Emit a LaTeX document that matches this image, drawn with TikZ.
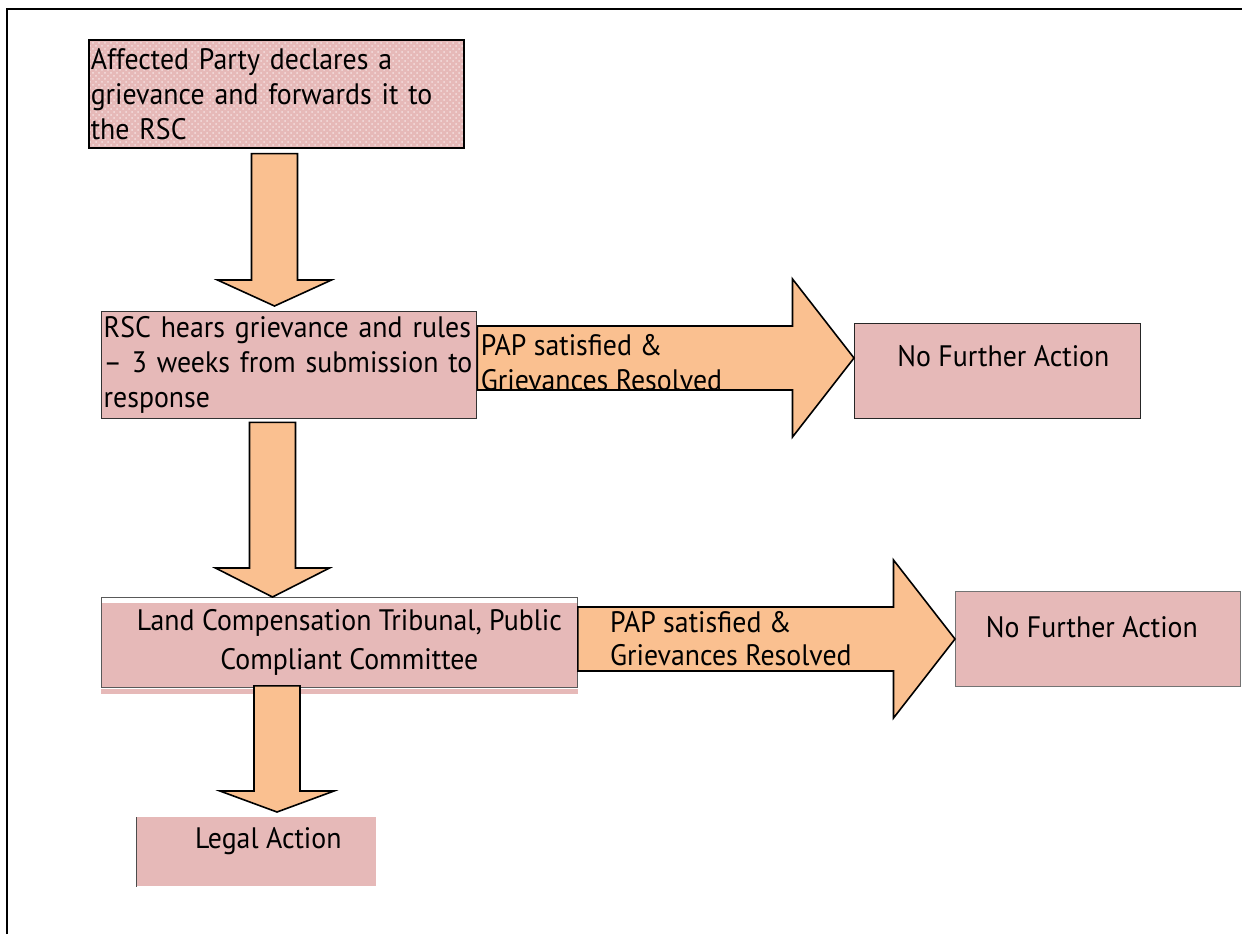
\documentclass[tikz,border=0pt]{standalone}
\usepackage{fontspec}
\setmainfont{PT Sans}[FakeStretch=0.94]
\usetikzlibrary{calc,patterns}
\definecolor{boxpink}{HTML}{E6B9B8}
\definecolor{arroworange}{HTML}{FAC090}
\tikzset{
  box/.style={rectangle, fill=boxpink, draw=#1, anchor=north west, inner sep=1pt,
    font=\fontsize{14.8}{17.5}\selectfont},
  arrowtext/.style={inner sep=0pt, align=left, font=\fontsize{14.8}{17.5}\selectfont},
  downarrow/.style={fill=arroworange, draw=black, line width=0.8pt,
    to path={let \p1=(\tikztostart), \p2=(\tikztotarget) in
      ({\x1-11.5pt},\y1) -- ({\x1+11.5pt},\y1) -- ({\x1+11.5pt},{\y2+#1}) -- ({\x1+28.5pt},{\y2+#1})
      -- (\x1,\y2) -- ({\x1-28.5pt},{\y2+#1}) -- ({\x1-11.5pt},{\y2+#1}) -- cycle}},
  rightarrow/.style={fill=arroworange, draw=black, line width=0.8pt,
    to path={let \p1=(\tikztostart), \p2=(\tikztotarget) in
      (\x1,{\y1+16pt}) -- ({\x2-30.75pt},{\y1+16pt}) -- ({\x2-30.75pt},{\y1+39.5pt}) -- (\x2,\y1)
      -- ({\x2-30.75pt},{\y1-39.5pt}) -- ({\x2-30.75pt},{\y1-16pt}) -- (\x1,{\y1-16pt}) -- cycle}},
}
\begin{document}
\begin{tikzpicture}[x=0.5pt,y=-0.5pt]
  \useasboundingbox (0,0) rectangle (1242,934);
  \draw[line width=1pt] (7,934) -- (7,9) -- (1242,9);
  % boxes
  \node[box=black, line width=0.8pt, text width=185.5pt, minimum height=54pt, align=left,
    preaction={fill=boxpink}, pattern=crosshatch dots, pattern color=white!55!boxpink] (affected) at (88,39)
    {Affected Party declares a\\ grievance and forwards it to\\ the RSC};
  \node[box=black!80, line width=0.7pt, text width=185.5pt, minimum height=53.5pt, align=left] (rsc) at (101,311)
    {RSC hears grievance and rules\\ – 3 weeks from submission to\\ response};
  \node[box=black!85, inner sep=0pt, minimum width=143pt, text height=21.5pt, text depth=26pt] (nfa1) at (854,323)
    {\hspace*{6pt}No Further Action};
  \node[box=black!65, minimum width=238pt, minimum height=45pt, align=center, font=\fontsize{14.8}{19.5}\selectfont,
    path picture={\fill[white] (path picture bounding box.north west) rectangle ([yshift=-3pt]path picture bounding box.north east);}]
    (lct) at (101,597) {\hspace*{10pt}Land Compensation Tribunal, Public\\ \hspace*{10pt}Compliant Committee};
  \fill[boxpink] ($(lct.south west)+(0,1)$) rectangle ($(lct.south east)+(0,6)$);
  \node[box=black!55, inner sep=0pt, minimum width=142.5pt, text height=23pt, text depth=24.5pt] (nfa2) at (955,591)
    {No Further Action\hspace*{6pt}};
  \node[box=none, inner sep=0pt, minimum width=120pt, text height=15.5pt, text depth=19pt] (legal) at (136,817)
    {\hspace*{12pt}Legal Action};
  \draw[black!70] (legal.north west) -- (legal.south west);
  % block arrows
  \draw[downarrow=13pt] ($(affected.south -| 274.5,0)+(0,5)$) to ($(rsc.north -| 274.5,0)+(0,-5)$);
  \draw[downarrow=14.5pt] ($(rsc.south -| 272.5,0)+(0,3)$) to (lct.north -| 272.5,0);
  \draw[downarrow=10.5pt] ($(lct.south -| 277,0)+(0,-2)$) to ($(legal.north -| 277,0)+(0,-5)$);
  \draw[rightarrow] (rsc.east |- 0,358) to (nfa1.west |- 0,358);
  \draw[rightarrow] (lct.east |- 0,639) to (nfa2.west |- 0,639);
  \node[arrowtext, anchor=west] (sat1) at ($(rsc.east |- 0,362.5)+(3,0)$) {PAP satisfied \&\\ Grievances Resolved};
  \node[arrowtext, anchor=west, font=\fontsize{14.8}{16.5}\selectfont] (sat2) at ($(lct.east |- 0,639)+(32,0)$)
    {PAP satisfied \&\\ Grievances Resolved};
\end{tikzpicture}
\end{document}
